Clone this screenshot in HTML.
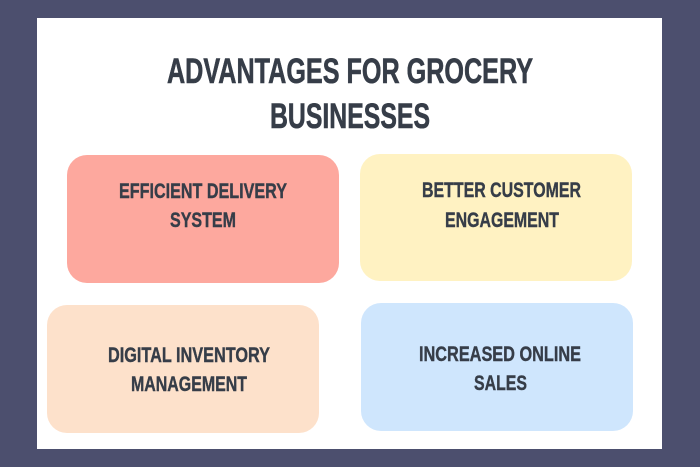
<!DOCTYPE html>
<html><head><style>html,body{margin:0;padding:0;background:#4c4f6e;}svg{display:block}</style></head>
<body>
<svg width="700" height="467" xmlns="http://www.w3.org/2000/svg">
<rect width="700" height="467" fill="#4c4f6e"/>
<rect x="37" y="18" width="625" height="431" fill="#ffffff"/>
<rect x="67" y="155" width="272" height="128" rx="20" fill="#fda89e"/>
<rect x="360" y="154" width="272" height="127" rx="20" fill="#fff2c2"/>
<rect x="47" y="305" width="272" height="128" rx="20" fill="#fde1cb"/>
<rect x="361" y="303" width="272" height="128" rx="20" fill="#cfe6fd"/>
<g font-family="Liberation Sans, sans-serif" font-weight="bold" fill="#363d48" stroke="#363d48" stroke-width="0.6">
<text x="167" y="83" font-size="35" textLength="366" lengthAdjust="spacingAndGlyphs">ADVANTAGES FOR GROCERY</text>
<text x="270" y="128" font-size="35" textLength="160" lengthAdjust="spacingAndGlyphs">BUSINESSES</text>
<g font-size="21" stroke-width="0.4">
<text x="119" y="198" textLength="168" lengthAdjust="spacingAndGlyphs">EFFICIENT DELIVERY</text>
<text x="170" y="227" textLength="66" lengthAdjust="spacingAndGlyphs">SYSTEM</text>
<text x="422" y="197" textLength="159" lengthAdjust="spacingAndGlyphs">BETTER CUSTOMER</text>
<text x="445" y="227" textLength="114" lengthAdjust="spacingAndGlyphs">ENGAGEMENT</text>
<text x="108" y="362" textLength="162" lengthAdjust="spacingAndGlyphs">DIGITAL INVENTORY</text>
<text x="131" y="391" textLength="116" lengthAdjust="spacingAndGlyphs">MANAGEMENT</text>
<text x="419" y="361" textLength="162" lengthAdjust="spacingAndGlyphs">INCREASED ONLINE</text>
<text x="474" y="390" textLength="53" lengthAdjust="spacingAndGlyphs">SALES</text>
</g>
</g>
</svg>
</body></html>
